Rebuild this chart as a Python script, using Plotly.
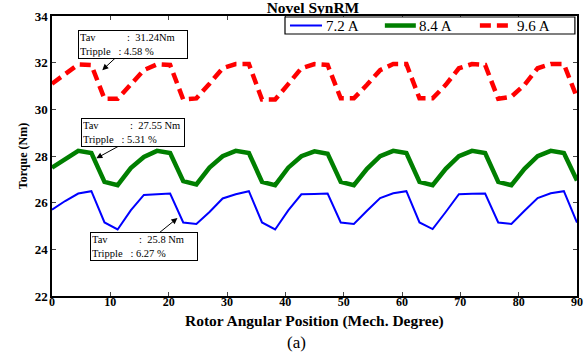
import plotly.graph_objects as go

angle = [0, 2.25, 4.5, 6.75, 9, 11.25, 13.5, 15.75, 18, 20.25, 22.5, 24.75, 27, 29.25,
         31.5, 33.75, 36, 38.25, 40.5, 42.75, 45, 47.25, 49.5, 51.75, 54, 56.25, 58.5,
         60.75, 63, 65.25, 67.5, 69.75, 72, 74.25, 76.5, 78.75, 81, 83.25, 85.5, 87.75, 90]

torque_72 = [25.70, 26.07, 26.39, 26.49, 25.15, 24.85, 25.67, 26.33, 26.36, 26.39, 25.15,
             25.09, 25.60, 26.18, 26.36, 26.49, 25.15, 24.85, 25.67, 26.36, 26.37, 26.39,
             25.15, 25.09, 25.65, 26.20, 26.40, 26.49, 25.15, 24.87, 25.60, 26.36, 26.38,
             26.39, 25.15, 25.09, 25.65, 26.20, 26.40, 26.49, 25.15]

torque_84 = [27.50, 27.85, 28.22, 28.13, 26.89, 26.75, 27.48, 27.96, 28.22, 28.13, 26.92,
             26.78, 27.50, 27.99, 28.22, 28.13, 26.89, 26.75, 27.50, 27.99, 28.20, 28.10,
             26.89, 26.75, 27.45, 27.99, 28.22, 28.13, 26.89, 26.75, 27.45, 27.99, 28.22,
             28.13, 26.89, 26.75, 27.45, 27.99, 28.22, 28.13, 26.95]

torque_96 = [31.10, 31.50, 31.92, 31.90, 30.45, 30.45, 31.05, 31.68, 31.93, 31.90, 30.42,
             30.47, 31.10, 31.76, 31.94, 31.94, 30.42, 30.42, 31.08, 31.76, 31.94, 31.90,
             30.47, 30.47, 31.05, 31.68, 31.94, 31.94, 30.47, 30.47, 31.05, 31.76, 31.94,
             31.90, 30.45, 30.54, 31.05, 31.76, 31.94, 31.94, 30.50]

series_names = ["7.2 A", "8.4 A", "9.6 A"]
tav_labels = ["25.8 Nm", "27.55 Nm", "31.24Nm"]
tripple_labels = ["6.27 %", "5.31 %", "4.58 %"]

x_ticks = [0, 10, 20, 30, 40, 50, 60, 70, 80, 90]
y_ticks = [22, 24, 26, 28, 30, 32, 34]

SERIF = "Liberation Serif, Times New Roman, serif"
NB = "\u00a0"

styles = [
    dict(color="#0000FF", width=2),
    dict(color="#007F00", width=4.5),
    dict(color="#FF0000", width=4.5, dash="11px,6px"),
]
series = [torque_72, torque_84, torque_96]

fig = go.Figure()
for name, vals, st in zip(series_names, series, styles):
    fig.add_trace(go.Scatter(x=angle, y=vals, mode="lines", name=name, line=st,
                             showlegend=False))

# custom legend box (paper coordinates of the plotting area)
fig.add_shape(type="rect", xref="paper", yref="paper", x0=0.4438, x1=0.996,
              y0=0.9357, y1=0.9964, line=dict(color="black", width=1.2),
              fillcolor="white", layer="above")
legend_slots = [(0.4533, 0.5143), (0.634, 0.693), (0.815, 0.878)]
for (lx0, lx1), name, st in zip(legend_slots, series_names, styles):
    fig.add_shape(type="line", xref="paper", yref="paper", x0=lx0, x1=lx1,
                  y0=0.966, y1=0.966, line=st, layer="above")
    fig.add_annotation(x=lx1 + 0.003, y=0.966, xref="paper", yref="paper",
                       xanchor="left", yanchor="middle", text=name, showarrow=False,
                       font=dict(family=SERIF, size=15, color="black"))


def box_text(tav, trip):
    return ("Tav" + NB * 12 + ":" + NB * 2 + tav + "<br>" +
            "Tripple" + NB * 3 + ":" + NB + trip)


# (box center x, box center y, box width, tail x, tail y, head x, head y)
boxes = [
    (15.8, 24.13, 104, 18.05, 24.64, 21.5, 25.34),
    (13.85, 29.02, 100, 11.7, 28.46, 7.6, 27.9),
    (13.96, 32.78, 106, 11.2, 32.28, 8.62, 31.68),
]
for i, (bx, by, bw, tx, ty, hx, hy) in enumerate(boxes):
    fig.add_annotation(x=hx, y=hy, ax=tx, ay=ty, axref="x", ayref="y", xref="x", yref="y",
                       text="", showarrow=True, arrowhead=2, arrowsize=1.2, arrowwidth=1,
                       arrowcolor="black")
    fig.add_annotation(x=bx, y=by, xref="x", yref="y", text=box_text(tav_labels[i], tripple_labels[i]),
                       showarrow=False, align="left", width=bw,
                       font=dict(family=SERIF, size=10.5, color="black"),
                       bordercolor="black", borderwidth=1, borderpad=1, bgcolor="white")

fig.add_annotation(x=0.5, y=-0.09, xref="paper", yref="paper", yanchor="middle",
                   text="<b>Rotor Angular Position (Mech. Degree)</b>", showarrow=False,
                   font=dict(family=SERIF, size=15.5, color="black"))
fig.add_annotation(x=0.465, y=-0.125, xref="paper", yref="paper", yanchor="top",
                   text="(a)", showarrow=False,
                   font=dict(family=SERIF, size=17, color="black"))

fig.update_layout(
    width=585, height=355,
    margin=dict(l=52, r=8, t=16, b=59, autoexpand=False),
    paper_bgcolor="white", plot_bgcolor="white",
    title=dict(text="<b>Novel SynRM</b>", x=0.535, xanchor="center", y=0.979, yanchor="middle",
               font=dict(family=SERIF, size=15.5, color="black")),
    showlegend=False,
)
fig.update_xaxes(range=[0, 90], tickvals=x_ticks, ticks="inside", ticklen=4,
                 showline=True, linecolor="black", linewidth=1.5, mirror="ticks",
                 showgrid=False, zeroline=False, ticklabelstandoff=-6,
                 tickfont=dict(family=SERIF, size=12, color="black", weight="bold"))
fig.update_yaxes(range=[22, 34], tickvals=y_ticks, ticks="inside", ticklen=4,
                 showline=True, linecolor="black", linewidth=1.5, mirror="ticks",
                 showgrid=False, zeroline=False,
                 tickfont=dict(family=SERIF, size=13, color="black", weight="bold"),
                 title=dict(text="<b>Torque (Nm)</b>", standoff=4,
                            font=dict(family=SERIF, size=12, color="black")))

fig.write_html("out.html", post_script="document.body.style.margin='0';",
               config={"displayModeBar": False})
